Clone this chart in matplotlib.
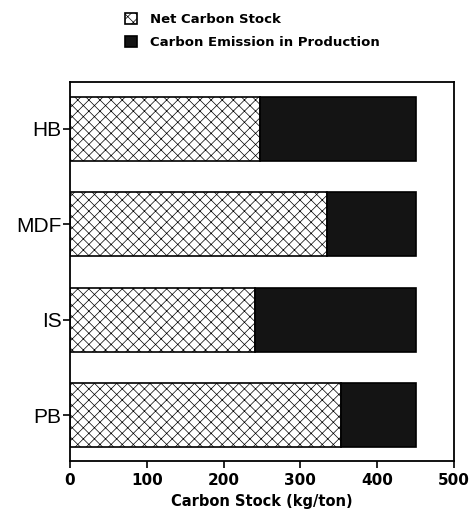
import numpy as np
import matplotlib.pyplot as plt

# Data (kg/ton)
products = ['PB', 'IS', 'MDF', 'HB']
net_stock = np.array([353, 241, 335, 248])
emission = np.array([97, 209, 116, 203])
xticks = [0, 100, 200, 300, 400, 500]

plt.rcParams['hatch.linewidth'] = 0.5
plt.rcParams['hatch.color'] = '#444444'

fig = plt.figure(figsize=(4.72, 5.17), dpi=100)
ax = fig.add_axes([0.148, 0.108, 0.814, 0.733])

y = np.arange(len(products))
b1 = ax.barh(y, net_stock, height=0.67, color='white', edgecolor='black',
             hatch='xxx', linewidth=1.2, label='Net Carbon Stock')
b2 = ax.barh(y, emission, left=net_stock, height=0.67, color='#141414',
             edgecolor='black', linewidth=1.2, label='Carbon Emission in Production')

ax.set_xlim(0, 500)
ax.set_ylim(-0.48, 3.49)
ax.set_yticks(y)
ax.set_yticklabels(products, fontsize=15, family='Liberation Sans')
ax.set_xticks(xticks)
ax.set_xticklabels([str(t) for t in xticks], fontsize=11, fontweight='bold',
                   family='DejaVu Sans')
ax.tick_params(axis='both', direction='out', length=5, width=1.2)
ax.tick_params(axis='y', pad=1)
ax.set_xlabel('Carbon Stock (kg/ton)', fontsize=10.5, fontweight='bold', labelpad=4)
for s in ax.spines.values():
    s.set_linewidth(1.3)

fig.legend(handles=[b1, b2], loc='upper left', bbox_to_anchor=(0.24, 0.997),
           frameon=False, prop={'weight': 'bold', 'size': 9.5},
           handlelength=0.9, handleheight=0.9, labelspacing=0.7, handletextpad=1.0)

plt.savefig('out.png', dpi=100)
